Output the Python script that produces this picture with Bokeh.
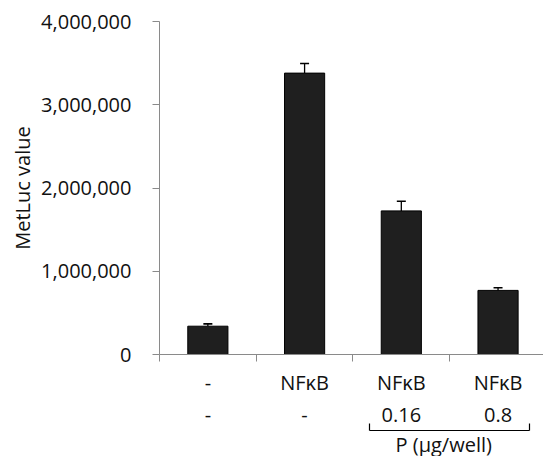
from bokeh.plotting import figure
from bokeh.models import (Range1d, FixedTicker, LinearAxis, NumeralTickFormatter,
                          Whisker, TeeHead, ColumnDataSource, Title)
from bokeh.embed import file_html
from bokeh.resources import INLINE

# ---- data ----
row1 = ["-", "NF\u03baB", "NF\u03baB", "NF\u03baB"]
row2 = ["-", "-", "0.16", "0.8"]
values = [340000, 3380000, 1725000, 770000]
errors = [28000, 115000, 115000, 32000]
y_ticks = [0, 1000000, 2000000, 3000000, 4000000]
y_label = "MetLuc value"
group_label = "P (\u00b5g/well)"
group_members = [2, 3]          # categories under the bracket

# ---- styling ----
FONT = "Open Sans"
FS = "20px"
AXIS_GRAY = "#8a8a8a"
TEXT = "#111111"

n = len(values)
centers = [i + 0.5 for i in range(n)]
tops = [v + e for v, e in zip(values, errors)]
src = ColumnDataSource(dict(x=centers, top=values, upper=tops))

p = figure(width=543, height=456, output_backend="svg", toolbar_location=None,
           x_range=Range1d(0, 3.97), y_range=Range1d(0, 4000000),
           min_border_left=159, min_border_top=21, min_border_right=0,
           min_border_bottom=102)
p.outline_line_color = None
p.xgrid.visible = False
p.ygrid.visible = False
p.background_fill_color = "white"
p.border_fill_color = "white"

p.vbar(x="x", top="top", bottom=0, width=0.415, source=src,
       fill_color="#1f1f1f", line_color="#000000", line_width=1)

w = Whisker(base="x", lower="top", upper="upper", source=src,
            line_color="black", line_width=1.3,
            upper_head=TeeHead(size=9, line_color="black", line_width=1.6),
            lower_head=None)
p.add_layout(w)

# y axis
ya = p.yaxis[0]
ya.ticker = FixedTicker(ticks=y_ticks, minor_ticks=[])
ya.formatter = NumeralTickFormatter(format="0,0")
ya.axis_line_color = AXIS_GRAY
ya.major_tick_line_color = AXIS_GRAY
ya.major_tick_out = 7
ya.major_tick_in = 0
ya.minor_tick_out = 0
ya.minor_tick_in = 0
ya.major_label_standoff = 21
ya.major_label_text_font = FONT
ya.major_label_text_font_size = FS
ya.major_label_text_color = TEXT
ya.axis_label = y_label
ya.axis_label_text_font = FONT
ya.axis_label_text_font_size = FS
ya.axis_label_text_font_style = "normal"
ya.axis_label_text_color = TEXT
ya.axis_label_standoff = 2

# x axis with two-row category labels
xa = p.xaxis[0]
xa.ticker = FixedTicker(ticks=centers, minor_ticks=list(range(n + 1)))
xa.major_label_overrides = {c: f"{a}\n{b}" for c, a, b in zip(centers, row1, row2)}
xa.axis_line_color = AXIS_GRAY
xa.major_tick_out = 0
xa.major_tick_in = 0
xa.minor_tick_out = 7
xa.minor_tick_in = 0
xa.minor_tick_line_color = AXIS_GRAY
xa.major_label_standoff = 7
xa.major_label_text_font = FONT
xa.major_label_text_font_size = FS
xa.major_label_text_color = TEXT
xa.major_label_text_line_height = 1.2

# bracket under grouped categories
lo = centers[group_members[0]] - 0.33
hi = centers[group_members[-1]] + 0.33
br = LinearAxis(bounds=(lo, hi), ticker=FixedTicker(ticks=[], minor_ticks=[lo, hi]))
br.axis_line_color = "black"
br.axis_line_width = 1.2
br.major_tick_out = 0
br.major_tick_in = 0
br.minor_tick_out = 0
br.minor_tick_in = 7
br.minor_tick_line_color = "black"
br.minor_tick_line_width = 1.2
br.major_label_standoff = 0
p.add_layout(br, "below")

# group caption under the bracket
gt = Title(text=group_label, align="left", offset=236, standoff=-4,
           text_font=FONT, text_font_size=FS, text_font_style="normal",
           text_color=TEXT)
p.add_layout(gt, "below")

open("out.html", "w").write(file_html(p, INLINE))
